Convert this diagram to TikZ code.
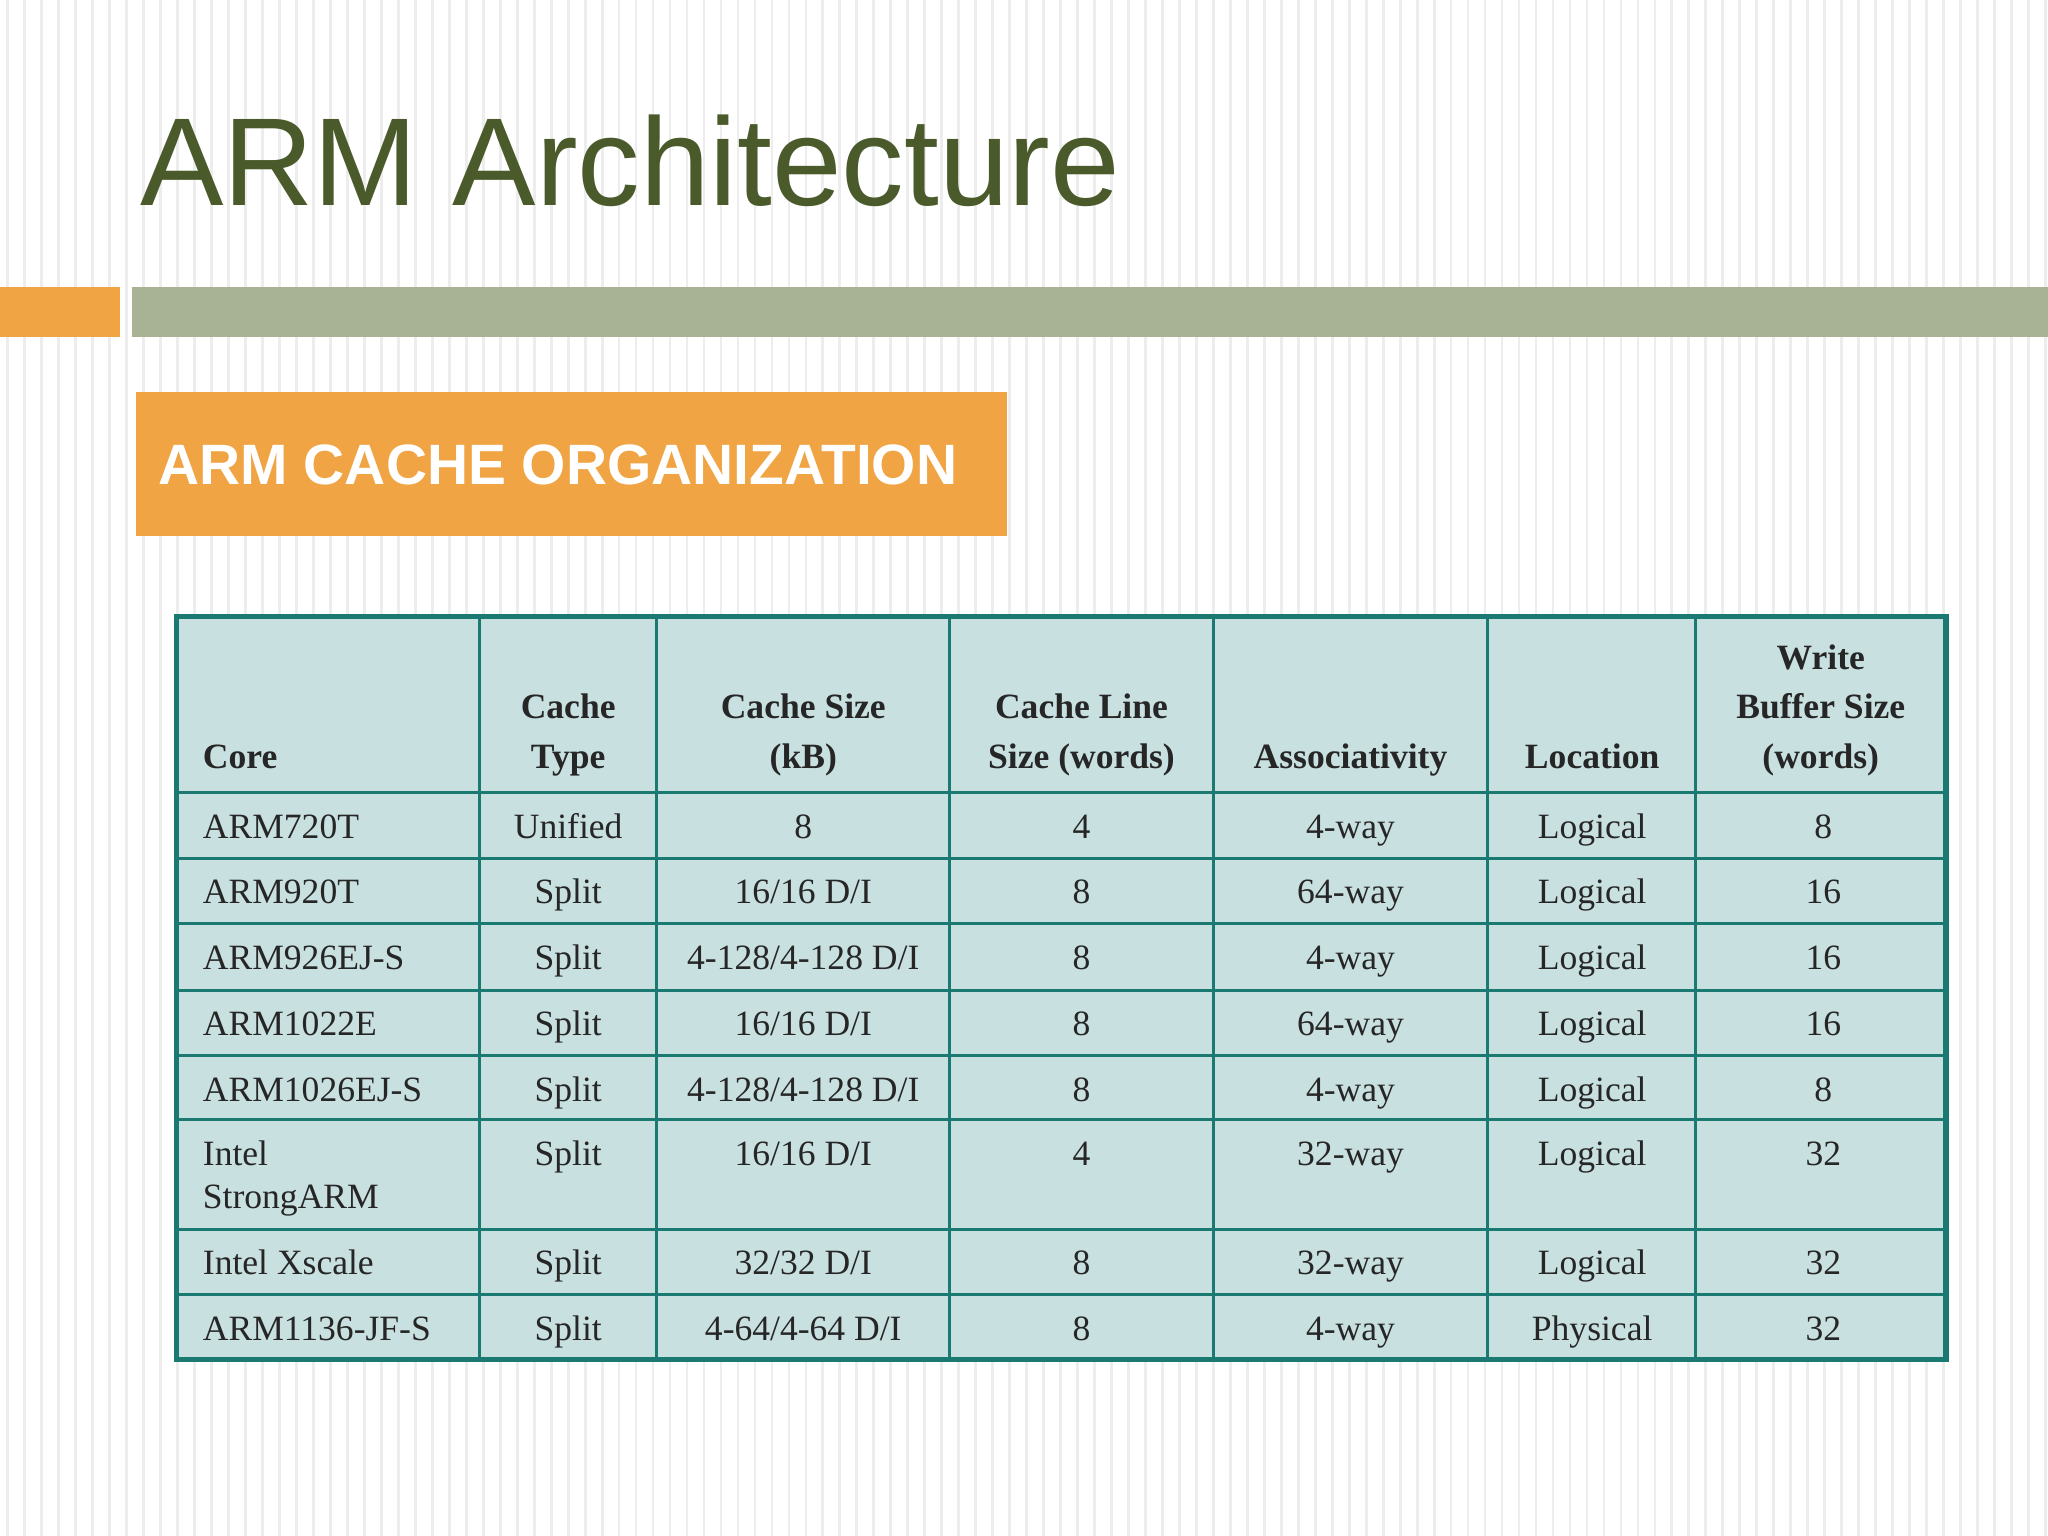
\documentclass[tikz,border=0pt]{standalone}
\usepackage{fontspec}
\setmainfont{Liberation Serif}
\newfontfamily\arial{Liberation Sans}
\definecolor{olivet}{HTML}{4A5A2A}
\definecolor{orng}{HTML}{F0A444}
\definecolor{sage}{HTML}{A7B394}
\definecolor{cellb}{HTML}{C9E0E0}
\definecolor{teal2}{HTML}{1A7A72}
\begin{document}
\begin{tikzpicture}[x=0.02cm,y=-0.02cm,
  cell/.style={font=\fontsize{15.5pt}{19pt}\selectfont, text=black!85, inner sep=0pt},
  hdr/.style={cell, font=\fontsize{15.5pt}{21.5pt}\selectfont\bfseries, align=center, anchor=base}]
\useasboundingbox (0,0) rectangle (1568,1176);
\fill[white] (0,0) rectangle (1568,1176);
\foreach \i in {0,...,120} {\draw[gray!14, line width=1.2pt] (\i*13+6,0) -- (\i*13+6,1176);}
\node[anchor=base west, inner sep=0pt, text=olivet, font=\arial\fontsize{54.5pt}{60pt}\selectfont] (title) at (107,157) {ARM Architecture};
\fill[orng] (0,220) rectangle (92,258);
\fill[sage] (101,220) rectangle (1568,258);
\fill[orng] (104,300) rectangle (771,410);
\node[anchor=west, inner sep=0pt, text=white, font=\arial\bfseries\fontsize{24.8pt}{30pt}\selectfont] (sub) at (121,356) {ARM CACHE ORGANIZATION};
\fill[cellb] (135,472) rectangle (1490,1041);
\foreach \x in {367,503,727,929,1139,1298} \draw[teal2, line width=1.3pt] (\x,472) -- (\x,1041);
\foreach \y in {607,657,707,758,808,857,941,991} \draw[teal2, line width=1.3pt] (135,\y) -- (1490,\y);
\draw[teal2, line width=2.4pt] (135,472) rectangle (1490,1041);
% header
\node[hdr, anchor=base west] (h1) at (155,588) {Core};
\node[hdr] (h2) at (435,588) {Cache\\Type};
\node[hdr] (h3) at (615,588) {Cache Size\\(kB)};
\node[hdr] (h4) at (828,588) {Cache Line\\Size (words)};
\node[hdr] (h5) at (1034,588) {Associativity};
\node[hdr] (h6) at (1219,588) {Location};
\node[hdr] (h7) at (1394,588) {Write\\Buffer Size\\(words)};
% body
\foreach \top/\a/\b/\c/\d/\e/\f/\g/\o [count=\r] in {
 607/ARM720T/Unified/8/4/4-way/Logical/8/0,
 657/ARM920T/Split/16\slash16 D\slash I/8/64-way/Logical/16/0,
 707/ARM926EJ-S/Split/4-128\slash4-128 D\slash I/8/4-way/Logical/16/0,
 758/ARM1022E/Split/16\slash16 D\slash I/8/64-way/Logical/16/0,
 808/ARM1026EJ-S/Split/4-128\slash4-128 D\slash I/8/4-way/Logical/8/0,
 857/{Intel\\StrongARM}/Split/16\slash16 D\slash I/4/32-way/Logical/32/33.5,
 941/Intel Xscale/Split/32\slash32 D\slash I/8/32-way/Logical/32/0,
 991/ARM1136-JF-S/Split/4-64\slash4-64 D\slash I/8/4-way/Physical/32/0} {
  \node[cell, anchor=base west, align=left] (c\r a) at (155,\top+35+\o) {\a};
  \node[cell, anchor=base] (c\r b) at (435,\top+35) {\b};
  \node[cell, anchor=base] (c\r c) at (615,\top+35) {\c};
  \node[cell, anchor=base] (c\r d) at (828,\top+35) {\d};
  \node[cell, anchor=base] (c\r e) at (1034,\top+35) {\e};
  \node[cell, anchor=base] (c\r f) at (1219,\top+35) {\f};
  \node[cell, anchor=base] (c\r g) at (1396,\top+35) {\g};
}
\end{tikzpicture}
\end{document}
